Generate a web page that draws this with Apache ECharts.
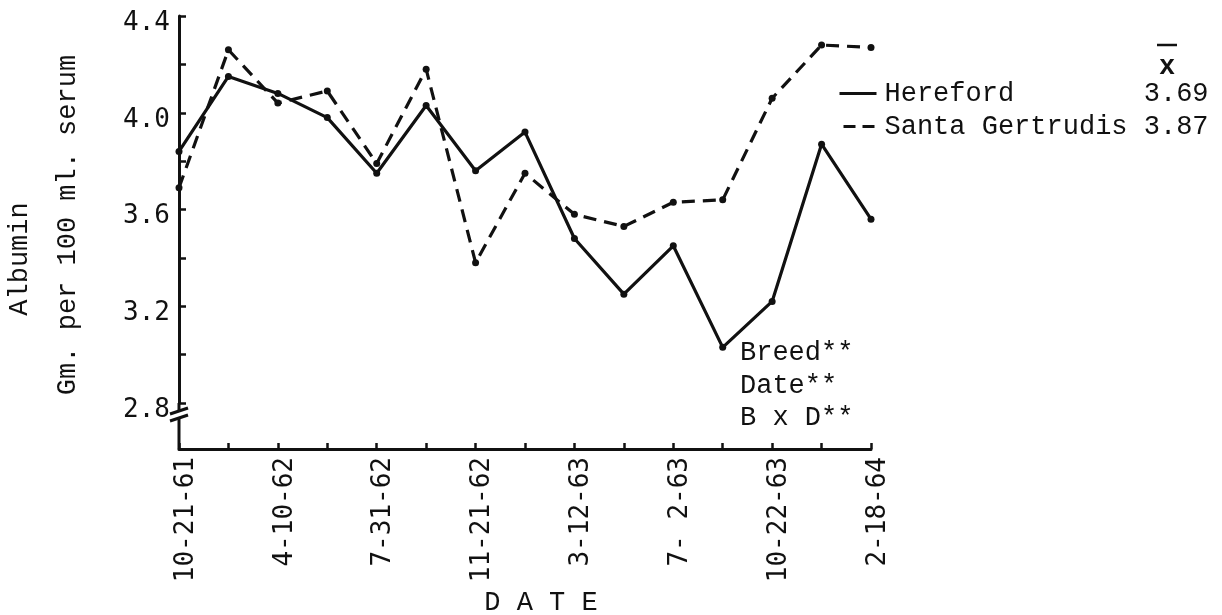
<!DOCTYPE html>
<html>
<head>
<meta charset="utf-8">
<script src="https://cdn.jsdelivr.net/npm/echarts@6/dist/echarts.min.js"></script>
<style>
  html, body { margin: 0; padding: 0; background: #fff; }
  #chart { width: 1222px; height: 615px; }
</style>
</head>
<body>
<div id="chart"></div>
<script>
// Sampling dates (only every other one is labelled on the axis)
const dateLabels = ['10-21-61', '', '4-10-62', '', '7-31-62', '', '11-21-62', '',
                    '3-12-63', '', '7- 2-63', '', '10-22-63', '', '2-18-64'];

// Serum albumin, Gm. per 100 ml. serum
const hereford       = [3.84, 4.15, 4.08, 3.98, 3.75, 4.03, 3.76, 3.92, 3.48, 3.25, 3.45, 3.03, 3.22, 3.87, 3.56];
const santaGertrudis = [3.69, 4.26, 4.04, 4.09, 3.79, 4.18, 3.38, 3.75, 3.58, 3.53, 3.63, 3.64, 4.06, 4.28, 4.27];

const breedNames = ['Hereford', 'Santa Gertrudis'];
const breedMeans = ['3.69', '3.87'];

const effectNotes = ['Breed**', 'Date**', 'B x D**'];

const TYPE = '"Liberation Mono", "DejaVu Sans Mono", monospace';
const TICK = '"DejaVu Sans Mono", "Liberation Mono", monospace';
const INK = '#111';

const chart = echarts.init(document.getElementById('chart'), null, { renderer: 'canvas' });

const toPairs = arr => arr.map((v, i) => [i, v]);

chart.setOption({
  animation: false,
  backgroundColor: '#fff',
  grid: { left: 179, right: 351, top: 16, height: 387, containLabel: false },
  xAxis: {
    type: 'value', min: 0, max: 14, interval: 1, offset: 46,
    axisLine: { lineStyle: { color: INK, width: 3 } },
    axisTick: { inside: true, length: 6, lineStyle: { color: INK, width: 2.5 } },
    axisLabel: {
      rotate: 90, margin: 8, color: INK, fontFamily: TICK, fontSize: 26,
      verticalAlign: 'top', lineHeight: 14,
      formatter: v => dateLabels[v] || ''
    },
    splitLine: { show: false }
  },
  yAxis: {
    type: 'value', min: 2.8, max: 4.4, interval: 0.2,
    axisLine: { show: true, lineStyle: { color: INK, width: 3 } },
    axisTick: { show: true, inside: true, length: 7, lineStyle: { color: INK, width: 2.5 } },
    axisLabel: {
      margin: 9, color: INK, fontFamily: TICK, fontSize: 26,
      verticalAlign: 'top', lineHeight: 14,
      formatter: v => (Math.round(v * 10) % 4 === 0 ? v.toFixed(1) : '')
    },
    splitLine: { show: false }
  },
  legend: {
    orient: 'vertical', left: 833, top: 75,
    itemWidth: 37, itemHeight: 14, itemGap: 6,
    textStyle: { fontFamily: TYPE, fontSize: 27, color: INK, padding: [0, 0, 0, 3] },
    formatter: name => name.padEnd(16, ' ') + breedMeans[breedNames.indexOf(name)],
    data: [
      { name: breedNames[0], itemStyle: { opacity: 0 }, lineStyle: { width: 3, color: INK } },
      { name: breedNames[1], itemStyle: { opacity: 0 }, lineStyle: { width: 3, color: INK, type: [12, 7], dashOffset: -4 } }
    ]
  },
  series: [
    {
      name: breedNames[0], type: 'line', data: toPairs(hereford),
      symbol: 'circle', symbolSize: 7,
      lineStyle: { color: INK, width: 3.2 },
      itemStyle: { color: INK }
    },
    {
      name: breedNames[1], type: 'line', data: toPairs(santaGertrudis),
      symbol: 'circle', symbolSize: 7,
      lineStyle: { color: INK, width: 3.2, type: [13, 8] },
      itemStyle: { color: INK }
    }
  ]
});

// Axis break on the value axis, mean header, titles and test notes
const [ax, ay] = chart.convertToPixel({ gridIndex: 0 }, [0, 2.8]);
const baseY = ay + 46;
const stroke = { stroke: INK, lineWidth: 3 };

const graphics = [
  { type: 'line', shape: { x1: ax, y1: ay, x2: ax, y2: ay + 9 }, style: stroke },
  { type: 'line', shape: { x1: ax - 9, y1: ay + 11, x2: ax + 9, y2: ay + 5 }, style: stroke },
  { type: 'line', shape: { x1: ax - 9, y1: ay + 18, x2: ax + 9, y2: ay + 12 }, style: stroke },
  { type: 'line', shape: { x1: ax, y1: ay + 15, x2: ax, y2: baseY }, style: stroke },

  // x-bar heading over the mean column
  { type: 'text', x: 1167, y: 67, style: { text: 'x', font: 'bold 27px ' + TYPE, fill: INK, align: 'center', verticalAlign: 'middle' } },
  { type: 'line', shape: { x1: 1157, y1: 45, x2: 1177, y2: 45 }, style: { stroke: INK, lineWidth: 2.5 } },

  // axis titles
  { type: 'text', x: 20, y: 259, rotation: Math.PI / 2, style: { text: 'Albumin', font: '27px ' + TYPE, fill: INK, align: 'center', verticalAlign: 'middle' } },
  { type: 'text', x: 68, y: 225, rotation: Math.PI / 2, style: { text: 'Gm. per 100 ml. serum', font: '27px ' + TYPE, fill: INK, align: 'center', verticalAlign: 'middle' } },
  { type: 'text', x: 541, y: 603, style: { text: 'D A T E', font: '27px ' + TYPE, fill: INK, align: 'center', verticalAlign: 'middle' } }
];

effectNotes.forEach((t, i) => {
  graphics.push({ type: 'text', x: 740, y: 353 + i * 32.5,
    style: { text: t, font: '27px ' + TYPE, fill: INK, align: 'left', verticalAlign: 'middle' } });
});

chart.setOption({ graphic: graphics });
</script>
</body>
</html>
